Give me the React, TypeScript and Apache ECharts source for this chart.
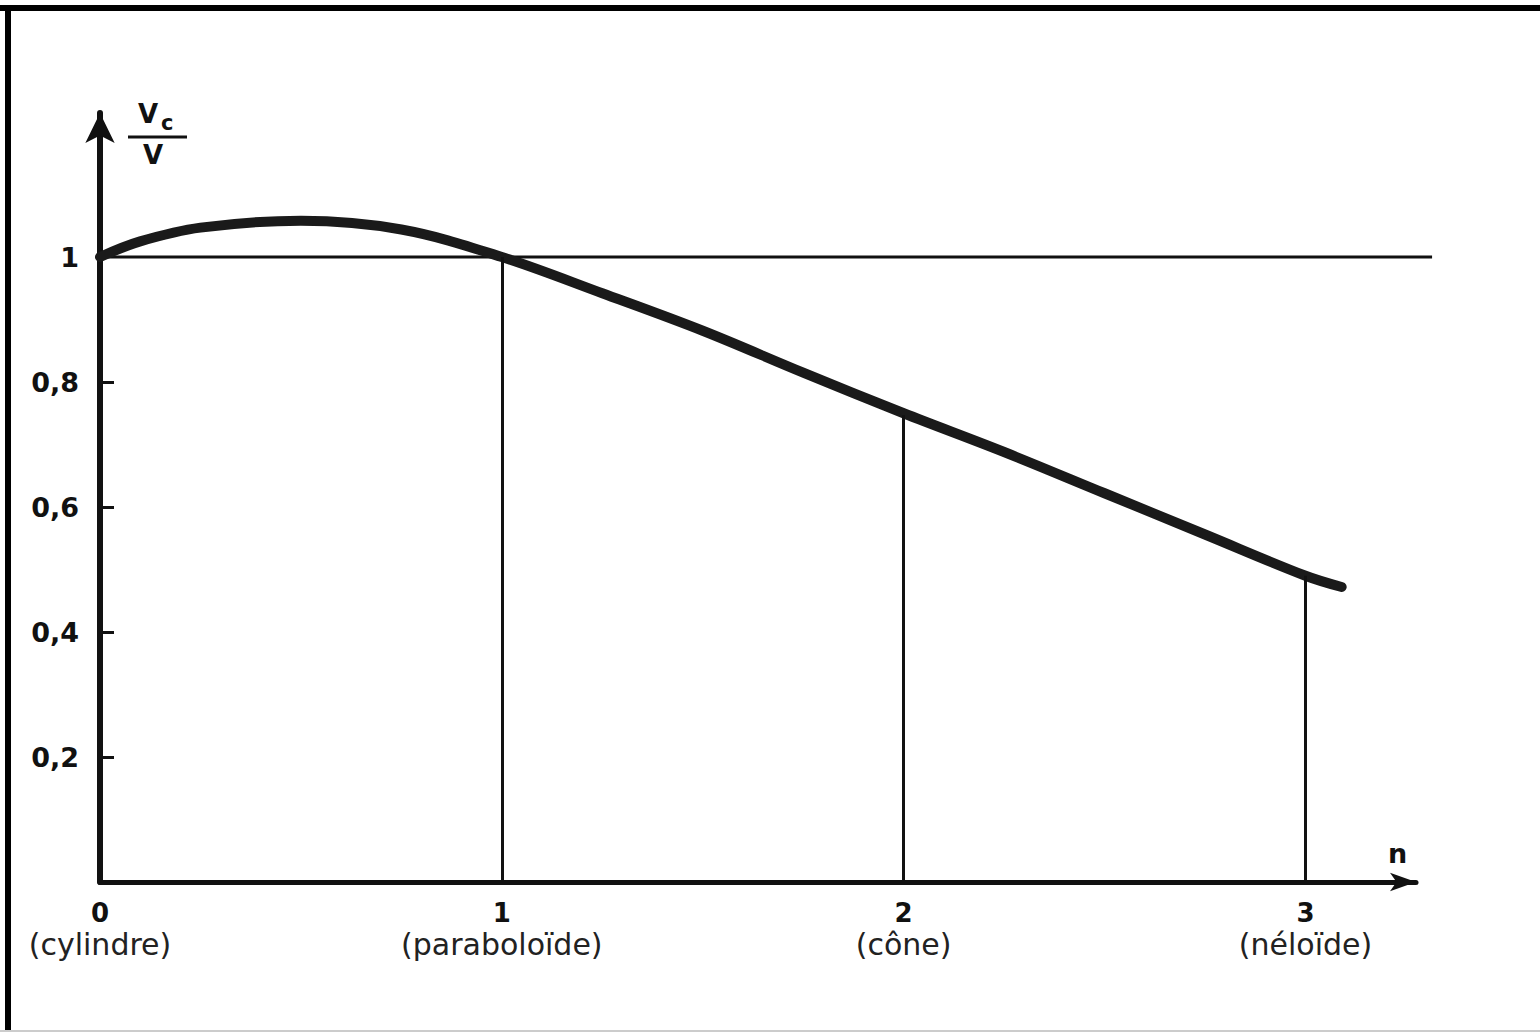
import React, { useEffect, useRef } from "react";
import * as echarts from "echarts";

// Curve V_c / V as a function of n
const curveX = [0, 0.1, 0.25, 0.5, 0.75, 1.0, 1.25, 1.5, 1.75, 2.0, 2.25, 2.5, 2.75, 3.0, 3.09];
const curveY = [1.0, 1.025, 1.047, 1.058, 1.044, 1.0, 0.942, 0.882, 0.815, 0.75, 0.688, 0.622, 0.556, 0.49, 0.472];

// Reference level
const refLevel = 1;
const refLineEndX = 3.315;

// Vertical drop lines at the named shapes
const dropX = [1, 2, 3];
const dropY = [1.0, 0.747, 0.49];

// Axis labels
const xTickValues = [0, 1, 2, 3];
const xTickNames = ["(cylindre)", "(paraboloïde)", "(cône)", "(néloïde)"];
const yTickValues = [0.2, 0.4, 0.6, 0.8];
const yLabelValues = [0.2, 0.4, 0.6, 0.8, 1];

export default function App() {
  const ref = useRef<HTMLDivElement>(null);

  useEffect(() => {
    if (!ref.current) return;
    const chart = echarts.init(ref.current, undefined, { renderer: "svg" });
    const ink = "#111";
    const font = "DejaVu Sans, Liberation Sans, Arial, sans-serif";

    const staticGraphic: any[] = [
      { type: "line", shape: { x1: 0, y1: 8, x2: 1540, y2: 8 }, style: { stroke: "#000", lineWidth: 6 } },
      { type: "line", shape: { x1: 8, y1: 5, x2: 8, y2: 1032 }, style: { stroke: "#000", lineWidth: 6 } },
      { type: "line", shape: { x1: 0, y1: 1031, x2: 1540, y2: 1031 }, style: { stroke: "#ccc", lineWidth: 2 } },
      { type: "text", x: 138, y: 101, style: { text: "V", font: `bold 26px ${font}`, fill: ink } },
      { type: "text", x: 161, y: 112, style: { text: "c", font: `bold 21px ${font}`, fill: ink } },
      { type: "line", shape: { x1: 128, y1: 137, x2: 187, y2: 137 }, style: { stroke: ink, lineWidth: 3 } },
      { type: "text", x: 143, y: 142, style: { text: "V", font: `bold 26px ${font}`, fill: ink } },
      { type: "text", x: 1388, y: 840, style: { text: "n", font: `bold 27px ${font}`, fill: ink } },
    ];

    const option: any = {
      animation: false,
      backgroundColor: "#fff",
      grid: { left: 100, right: 124, top: 113, bottom: 150, containLabel: false },
      xAxis: {
        type: "value",
        min: 0,
        max: 3.275,
        splitLine: { show: false },
        axisLine: {
          onZero: false,
          lineStyle: { color: ink, width: 5 },
          symbol: ["none", "arrow"],
          symbolSize: [14, 26],
        },
        axisTick: { show: false },
        axisLabel: {
          customValues: xTickValues,
          margin: 17,
          formatter: (v: number) => {
            const i = xTickValues.indexOf(v);
            return `{n|${v}}\n{t|${i >= 0 ? xTickNames[i] : ""}}`;
          },
          rich: {
            n: { fontFamily: font, fontWeight: "bold", fontSize: 26, color: ink, lineHeight: 28 },
            t: { fontFamily: font, fontSize: 30, color: "#222", lineHeight: 34 },
          },
        },
      },
      yAxis: {
        type: "value",
        min: 0,
        max: 1.2304,
        splitLine: { show: false },
        axisLine: {
          onZero: false,
          lineStyle: { color: ink, width: 6 },
          symbol: ["none", "arrow"],
          symbolSize: [22, 30],
        },
        axisTick: {
          show: true,
          inside: true,
          length: 14,
          customValues: yTickValues,
          lineStyle: { color: ink, width: 3 },
        },
        axisLabel: {
          customValues: yLabelValues,
          margin: 21,
          fontFamily: font,
          fontWeight: "bold",
          fontSize: 27,
          color: ink,
          formatter: (v: number) => String(Number(v.toFixed(1))).replace(".", ","),
        },
      },
      graphic: staticGraphic,
      series: [
        {
          type: "line",
          name: "drops",
          data: [],
          symbol: "none",
          markLine: {
            silent: true,
            symbol: ["none", "none"],
            label: { show: false },
            lineStyle: { color: ink, width: 3, type: "solid" },
            data: dropX.map((x, i) => [{ coord: [x, 0] }, { coord: [x, dropY[i]] }]),
          },
          z: 2,
        },
        {
          type: "line",
          name: "Vc/V",
          data: curveX.map((x, i) => [x, curveY[i]]),
          smooth: 0.35,
          symbol: "none",
          clip: false,
          lineStyle: { color: "#1a1a1a", width: 10, cap: "round", join: "round" },
          z: 3,
        },
      ],
    };

    chart.setOption(option);

    // Reference line at V_c/V = 1, extending past the axis end, placed through the axis scales
    const p0 = chart.convertToPixel({ xAxisIndex: 0, yAxisIndex: 0 }, [0, refLevel]) as number[];
    const p1 = chart.convertToPixel({ xAxisIndex: 0, yAxisIndex: 0 }, [refLineEndX, refLevel]) as number[];
    if (p0 && p1) {
      chart.setOption({
        graphic: [
          ...staticGraphic,
          {
            type: "line",
            z: 1,
            shape: { x1: p0[0], y1: p0[1], x2: p1[0], y2: p1[1] },
            style: { stroke: ink, lineWidth: 3 },
          },
        ],
      });
    }

    return () => chart.dispose();
  }, []);

  return (
    <div
      ref={ref}
      style={{ position: "absolute", left: 0, top: 0, width: 1540, height: 1032, background: "#fff" }}
    />
  );
}
